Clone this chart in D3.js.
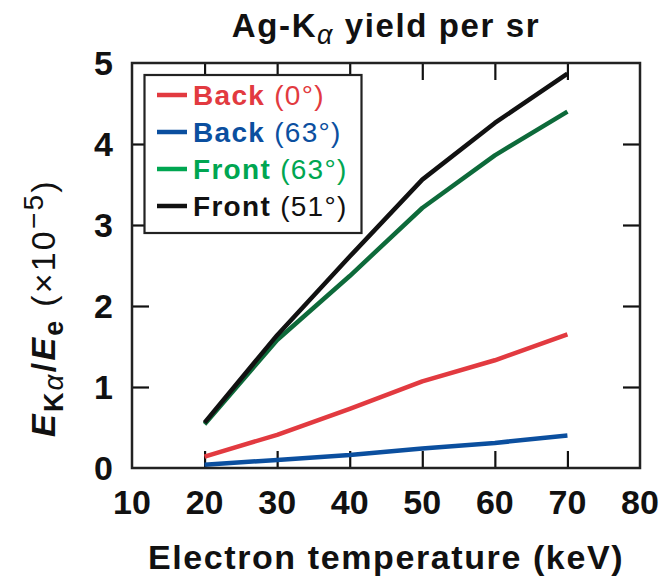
<!DOCTYPE html>
<html>
<head>
<meta charset="utf-8">
<script src="https://cdn.jsdelivr.net/npm/d3@7"></script>
<style>
  body { margin: 0; background: #fff; }
  text { font-family: "Liberation Sans", Arial, Helvetica, sans-serif; fill: #111; }
</style>
</head>
<body>
<div id="vis"></div>
<script>
// Ag-K alpha yield per sr vs electron temperature

const temps = [20, 30, 40, 50, 60, 70];
const backZero = [0.14, 0.41, 0.73, 1.07, 1.33, 1.65];
const back63 = [0.04, 0.10, 0.16, 0.24, 0.31, 0.40];
const front63 = [0.54, 1.58, 2.37, 3.21, 3.86, 4.40];
const front51 = [0.56, 1.64, 2.61, 3.56, 4.26, 4.87];

const xTicks = [10, 20, 30, 40, 50, 60, 70, 80];
const yTicks = [0, 1, 2, 3, 4, 5];

const series = [
    {name: "Back", angle: "(0°)", values: backZero, line: "#e23a40", label: "#e23a40"},
    {name: "Back", angle: "(63°)", values: back63, line: "#0b4f9f", label: "#0b4f9f"},
    {name: "Front", angle: "(63°)", values: front63, line: "#0d6a3a", label: "#00a651"},
    {name: "Front", angle: "(51°)", values: front51, line: "#111111", label: "#111111"}
];

const width = 659;
const height = 577;
const margins = {top: 63, bottom: 109, left: 132, right: 19};

const xScale = d3.scaleLinear().domain([10, 80]).range([margins.left, width - margins.right]);
const yScale = d3.scaleLinear().domain([0, 5]).range([height - margins.bottom, margins.top]);

const svg = d3.select("#vis").append("svg").attr("width", width).attr("height", height);

const tickLen = 17;
const inner = [20, 30, 40, 50, 60, 70];
const innerY = [1, 2, 3, 4];

// ticks on all four sides, pointing inwards
const xAxisB = d3.axisBottom(xScale).tickValues(inner).tickSize(-tickLen).tickFormat("");
const xAxisT = d3.axisTop(xScale).tickValues(inner).tickSize(-tickLen).tickFormat("");
const yAxisL = d3.axisLeft(yScale).tickValues(innerY).tickSize(-tickLen).tickFormat("");
const yAxisR = d3.axisRight(yScale).tickValues(innerY).tickSize(-tickLen).tickFormat("");

const axes = [
    [xAxisB, `translate(0, ${yScale(0)})`],
    [xAxisT, `translate(0, ${yScale(5)})`],
    [yAxisL, `translate(${xScale(10)}, 0)`],
    [yAxisR, `translate(${xScale(80)}, 0)`]
];
axes.forEach(([ax, t]) => {
    const g = svg.append("g").attr("class", "axis").attr("transform", t).call(ax);
    g.select(".domain").remove();
    g.selectAll("line").attr("stroke", "#111").attr("stroke-width", 2.2);
});

// lines
const line = d3.line().x((d, i) => xScale(temps[i])).y(d => yScale(d));
svg.selectAll("path.series").data(series).enter().append("path")
    .attr("class", "series")
    .attr("d", d => line(d.values))
    .attr("fill", "none")
    .attr("stroke", d => d.line)
    .attr("stroke-width", 4.5)
    .attr("stroke-linejoin", "round");

// frame
svg.append("rect")
    .attr("x", xScale(10)).attr("y", yScale(5))
    .attr("width", xScale(80) - xScale(10)).attr("height", yScale(0) - yScale(5))
    .attr("fill", "none").attr("stroke", "#222").attr("stroke-width", 2.5);

// tick labels
svg.selectAll("text.xt").data(xTicks).enter().append("text")
    .attr("class", "xt")
    .attr("x", d => xScale(d)).attr("y", 514)
    .attr("text-anchor", "middle")
    .style("font-size", "34px").style("font-weight", "bold")
    .text(d => d);

svg.selectAll("text.yt").data(yTicks).enter().append("text")
    .attr("class", "yt")
    .attr("x", 113).attr("y", d => yScale(d) + 12)
    .attr("text-anchor", "end")
    .style("font-size", "34px").style("font-weight", "bold")
    .text(d => d);

// title
const title = svg.append("text").attr("x", (xScale(10) + xScale(80)) / 2).attr("y", 37)
    .attr("text-anchor", "middle").style("font-size", "33px").style("font-weight", "bold")
    .style("letter-spacing", "1.6px");
title.append("tspan").text("Ag-K");
title.append("tspan").attr("dy", 7).style("font-size", "27px").style("font-style", "italic")
    .style("font-weight", "normal").text("α");
title.append("tspan").attr("dy", -7).text(" yield per sr");

// x axis title
svg.append("text").attr("x", (xScale(10) + xScale(80)) / 2).attr("y", 569)
    .attr("text-anchor", "middle").style("font-size", "34px").style("font-weight", "bold")
    .style("letter-spacing", "1.6px")
    .text("Electron temperature (keV)");

// y axis title
const yt = svg.append("text").attr("transform", "translate(55, 437) rotate(-90)")
    .style("font-size", "34px").style("letter-spacing", "2.2px");
yt.append("tspan").style("font-weight", "bold").style("font-style", "italic").text("E");
yt.append("tspan").attr("dy", 8).style("font-size", "27px").style("font-weight", "bold").text("K");
yt.append("tspan").style("font-size", "28px").style("font-style", "italic").text("α");
yt.append("tspan").attr("dy", -8).style("font-weight", "bold").text("/");
yt.append("tspan").style("font-weight", "bold").style("font-style", "italic").text("E");
yt.append("tspan").attr("dy", 8).style("font-size", "27px").style("font-weight", "bold").text("e");
yt.append("tspan").attr("dy", -8).text(" (×10");
yt.append("tspan").attr("dy", -12).style("font-size", "28px").text("−5");
yt.append("tspan").attr("dy", 12).text(")");

// legend
const legend = svg.append("g").attr("class", "legend");
legend.append("rect")
    .attr("x", 144.5).attr("y", 75).attr("width", 217).attr("height", 158)
    .attr("fill", "#fff").attr("stroke", "#222").attr("stroke-width", 2.2);

const rowY = d3.scaleLinear().domain([0, 3]).range([95, 206]);
series.forEach((s, i) => {
    legend.append("line")
        .attr("x1", 157).attr("x2", 187)
        .attr("y1", rowY(i)).attr("y2", rowY(i))
        .attr("stroke", s.label).attr("stroke-width", 4.5);
    const t = legend.append("text").attr("x", 193).attr("y", rowY(i) + 10)
        .style("font-size", "28px").style("letter-spacing", "1.3px").style("fill", s.label);
    t.append("tspan").style("font-weight", "bold").style("fill", s.label).text(s.name + " ");
    t.append("tspan").style("fill", s.label).text(s.angle);
});
</script>
</body>
</html>
